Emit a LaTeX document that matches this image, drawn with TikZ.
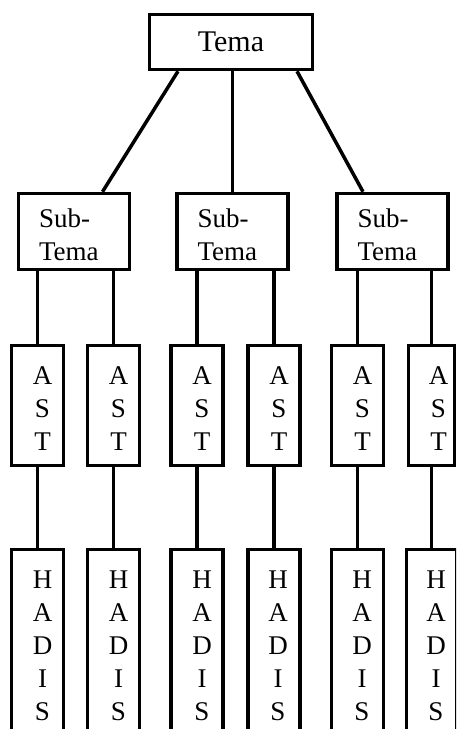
\documentclass[tikz,border=0pt]{standalone}
\usepackage{fontspec}
\setmainfont{Liberation Serif}
\usetikzlibrary{positioning}
\tikzset{
    box/.style = {rectangle, line width=3.5pt, draw=black, fill=white, inner sep=0pt},
    temabox/.style = {box, minimum width=163pt, minimum height=55pt, font=\fontsize{30}{36}\selectfont},
    subbox/.style = {box, minimum width=111pt, minimum height=76pt, text width=70pt, text height=26pt, align=left},
    astbox/.style = {box, minimum width=52pt, minimum height=120pt},
    hadisbox/.style = {box, minimum width=52pt, minimum height=200pt, anchor=north},
    vtext/.style = {align=center, inner sep=0pt},
    link/.style = {line width=3.5pt},
}
\begin{document}
\begin{tikzpicture}[x=1pt, y=-1pt, font=\fontsize{27}{33}\selectfont]
\useasboundingbox (0,0) rectangle (456,729);
\clip (0,0) rectangle (456,729);

\node[temabox] at (231, 42) (t) {Tema};
\node[subbox] at (74, 231.5) (s1) {Sub-\\Tema};
\node[subbox] at (232.5, 231.5) (s2) {Sub-\\Tema};
\node[subbox] at (392.5, 231.5) (s3) {Sub-\\Tema};
%
\node[astbox] at (37.5, 405.5) (a1) {};
\node[astbox] at (113.5, 405.5) (a2) {};
\node[astbox] at (197, 405.5) (a3) {};
\node[astbox] at (274, 405.5) (a4) {};
\node[astbox] at (357.5, 405.5) (a5) {};
\node[astbox, minimum width=46pt] at (431.5, 405.5) (a6) {};
%
\node[hadisbox] at (37.5, 547.5) (h1) {};
\node[hadisbox] at (113.5, 547.5) (h2) {};
\node[hadisbox] at (197, 547.5) (h3) {};
\node[hadisbox] at (274, 547.5) (h4) {};
\node[hadisbox] at (357.5, 547.5) (h5) {};
\node[hadisbox, minimum width=50pt] at (431.5, 547.5) (h6) {};
%
\node[vtext] at ([xshift=5pt, yshift=-3pt]a1.center) (ta1) {A\\S\\T};
\node[vtext] at ([xshift=5pt, yshift=-3pt]a2.center) (ta2) {A\\S\\T};
\node[vtext] at ([xshift=5pt, yshift=-3pt]a3.center) (ta3) {A\\S\\T};
\node[vtext] at ([xshift=5pt, yshift=-3pt]a4.center) (ta4) {A\\S\\T};
\node[vtext] at ([xshift=5pt, yshift=-3pt]a5.center) (ta5) {A\\S\\T};
\node[vtext] at ([xshift=7pt, yshift=-3pt]a6.center) (ta6) {A\\S\\T};
%
\node[vtext] at ([xshift=5pt, yshift=3.5pt]h1.center) (th1) {H\\A\\D\\I\\S};
\node[vtext] at ([xshift=5pt, yshift=3.5pt]h2.center) (th2) {H\\A\\D\\I\\S};
\node[vtext] at ([xshift=5pt, yshift=3.5pt]h3.center) (th3) {H\\A\\D\\I\\S};
\node[vtext] at ([xshift=4pt, yshift=3.5pt]h4.center) (th4) {H\\A\\D\\I\\S};
\node[vtext] at ([xshift=4.5pt, yshift=3.5pt]h5.center) (th5) {H\\A\\D\\I\\S};
\node[vtext] at ([xshift=4.5pt, yshift=3.5pt]h6.center) (th6) {H\\A\\D\\I\\S};
%
\draw[link] ([xshift=-53pt]t.south) -- ([xshift=28.5pt]s1.north);
\draw[link] (s2.north |- t.south) -- (s2.north);
\draw[link] ([xshift=66pt]t.south) -- ([xshift=-29.5pt]s3.north);
%
\draw[link] (s1.south -| a1.north) -- (a1.north);
\draw[link] (s1.south -| a2.north) -- (a2.north);
\draw[link] (s2.south -| a3.north) -- (a3.north);
\draw[link] (s2.south -| a4.north) -- (a4.north);
\draw[link] (s3.south -| a5.north) -- (a5.north);
\draw[link] (s3.south -| a6.north) -- (a6.north);
%
\draw[link] (a1) edge (h1);
\draw[link] (a2) edge (h2);
\draw[link] (a3) edge (h3);
\draw[link] (a4) edge (h4);
\draw[link] (a5) edge (h5);
\draw[link] (a6) edge (h6);

\end{tikzpicture}
\end{document}
